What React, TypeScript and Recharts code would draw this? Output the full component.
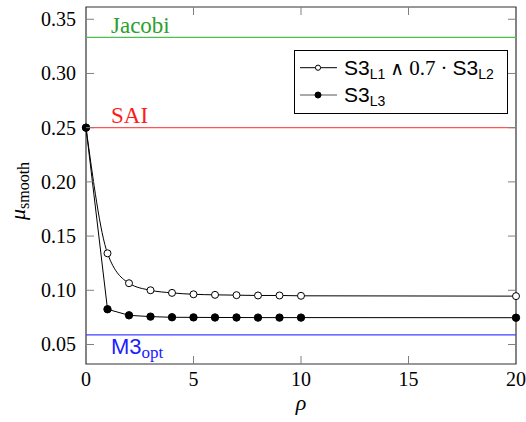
import React from 'react';
import { LineChart, Line, XAxis, YAxis, ReferenceLine, ReferenceArea, Legend } from 'recharts';

// ---- data ----
const rho = [0, 1, 2, 3, 4, 5, 6, 7, 8, 9, 10, 20];
const s3L1L2 = [0.25, 0.1341, 0.1065, 0.1, 0.0976, 0.0963, 0.0958, 0.0955, 0.0952, 0.0952, 0.0949, 0.0946];
const s3L3 = [0.25, 0.0825, 0.0769, 0.0757, 0.0751, 0.075, 0.0749, 0.0749, 0.0748, 0.0748, 0.0748, 0.0747];
const xTicks = [0, 5, 10, 15, 20];
const yTicks = [0.05, 0.1, 0.15, 0.2, 0.25, 0.3, 0.35];
const jacobiValue = 0.3333;
const saiValue = 0.25;
const m3optValue = 0.0589;
const xDomain = [0, 20];
const yDomain = [0.032, 0.3613];

const data = rho.map((r, i) => ({ x: r, a: s3L1L2[i], b: s3L3[i] }));

// ---- layout ----
const W = 526;
const H = 422;
const LEFT = 86;
const RIGHT = 516;
const TOP = 7;
const BOTTOM = 364;
const TICK = 8;
const SERIF = 'Liberation Serif, DejaVu Serif, serif';
const SANS = 'Liberation Sans, DejaVu Sans, sans-serif';
const serif = { fontFamily: SERIF };
const sans = { fontFamily: SANS };
const mathSym = { fontFamily: 'DejaVu Sans ExtraLight, DejaVu Sans, sans-serif' };

const XTick = (props: any) => {
  const { x, payload } = props;
  const v = payload.value;
  const edge = v === xDomain[0] || v === xDomain[1];
  return (
    <g>
      {!edge && (
        <>
          <line x1={x} x2={x} y1={BOTTOM} y2={BOTTOM - TICK} stroke="#808080" strokeWidth={1} />
          <line x1={x} x2={x} y1={TOP} y2={TOP + TICK} stroke="#808080" strokeWidth={1} />
        </>
      )}
      <text x={x} y={BOTTOM + 22} textAnchor="middle" style={serif} fontSize={20} fill="#000">
        {v}
      </text>
    </g>
  );
};

const YTick = (props: any) => {
  const { y, payload } = props;
  const v = payload.value;
  return (
    <g>
      <line x1={LEFT} x2={LEFT + TICK} y1={y} y2={y} stroke="#808080" strokeWidth={1} />
      <line x1={RIGHT} x2={RIGHT - TICK} y1={y} y2={y} stroke="#808080" strokeWidth={1} />
      <text x={76} y={y + 7} textAnchor="end" style={serif} fontSize={20} fill="#000">
        {v.toFixed(2)}
      </text>
    </g>
  );
};

const RefLabel = (props: any) => {
  const { viewBox, text, sub, color, dy, isSans } = props;
  const x = (viewBox?.x ?? LEFT) + 25;
  const y = (viewBox?.y ?? 0) + dy;
  return (
    <text x={x} y={y} style={isSans ? sans : serif} fontSize={isSans ? 22 : 23} fill={color}>
      {text}
      {sub && (
        <tspan style={serif} fontSize={17} dy={4}>
          {sub}
        </tspan>
      )}
    </text>
  );
};

const YLabel = () => (
  <text transform={`translate(25, 191) rotate(-90)`} textAnchor="middle" style={serif} fill="#000">
    <tspan fontStyle="italic" fontSize={22}>μ</tspan>
    <tspan fontSize={16} dy={4}>smooth</tspan>
  </text>
);

const XLabel = () => (
  <text x={301} y={410} textAnchor="middle" style={serif} fontStyle="italic" fontSize={22} fill="#000">
    ρ
  </text>
);

const LegendBox = () => (
  <svg width={214} height={64} style={{ display: 'block' }}>
    <rect x={0.5} y={0.5} width={213} height={63} fill="#fff" stroke="#000" strokeWidth={1} />
    <line x1={6} x2={43} y1={17.7} y2={17.7} stroke="#000" strokeWidth={1} />
    <circle cx={24} cy={17.7} r={2.6} fill="#fff" stroke="#000" strokeWidth={1} />
    <text x={50} y={25} style={sans} fontSize={21} fill="#000">
      S3
      <tspan fontSize={14} dy={4}>L1</tspan>
      <tspan style={mathSym} fontSize={19} dy={-4} dx={5}>∧</tspan>
      <tspan style={serif} fontSize={21} dx={5}>0.7</tspan>
      <tspan style={serif} fontSize={21} dx={5}>·</tspan>
      <tspan style={sans} fontSize={21} dx={5}>S3</tspan>
      <tspan style={sans} fontSize={14} dy={4}>L2</tspan>
    </text>
    <line x1={6} x2={43} y1={45} y2={45} stroke="#555" strokeWidth={1} />
    <circle cx={24} cy={45} r={3} fill="#000" stroke="#000" strokeWidth={1} />
    <text x={50} y={52.3} style={sans} fontSize={21} fill="#000">
      S3
      <tspan fontSize={14} dy={4}>L3</tspan>
    </text>
  </svg>
);

export default function App() {
  return (
    <div style={{ position: 'absolute', left: 0, top: 0, width: W, height: H, background: '#fff' }}>
      <LineChart width={W} height={H} data={data} margin={{ top: TOP, right: W - RIGHT, left: 0, bottom: 0 }}>
        <XAxis
          dataKey="x"
          type="number"
          domain={xDomain}
          ticks={xTicks}
          height={H - BOTTOM}
          axisLine={false}
          tickLine={false}
          tickSize={0}
          tick={<XTick />}
          interval={0}
          label={<XLabel />}
        />
        <YAxis
          type="number"
          domain={yDomain}
          ticks={yTicks}
          width={LEFT}
          axisLine={false}
          tickLine={false}
          tickSize={0}
          tick={<YTick />}
          interval={0}
          allowDataOverflow
          label={<YLabel />}
        />
        <ReferenceLine
          y={jacobiValue}
          stroke="#4cbf4c"
          strokeWidth={1.2}
          label={<RefLabel text="Jacobi" color="#2ca02c" dy={-4} />}
        />
        <ReferenceLine
          y={saiValue}
          stroke="#ff5555"
          strokeWidth={1.2}
          label={<RefLabel text="SAI" color="#ff1a1a" dy={-5} />}
        />
        <ReferenceLine
          y={m3optValue}
          stroke="#4040ff"
          strokeWidth={1.2}
          label={<RefLabel text="M3" sub="opt" isSans color="#2020ff" dy={19} />}
        />
        <ReferenceArea
          x1={xDomain[0]}
          x2={xDomain[1]}
          y1={yDomain[0]}
          y2={yDomain[1]}
          fill="none"
          fillOpacity={0}
          stroke="#333"
          strokeWidth={1.2}
        />
        <Line
          dataKey="a"
          type="monotone"
          stroke="#000"
          strokeWidth={1}
          dot={{ r: 3.5, fill: '#fff', stroke: '#000', strokeWidth: 1 }}
          isAnimationActive={false}
        />
        <Line
          dataKey="b"
          type="linear"
          stroke="#000"
          strokeWidth={1}
          dot={{ r: 3.7, fill: '#000', stroke: '#000', strokeWidth: 1 }}
          isAnimationActive={false}
        />
        <Legend
          layout="vertical"
          align="center"
          verticalAlign="middle"
          wrapperStyle={{ left: 294, top: 50, width: 214, height: 64, margin: 0, padding: 0 }}
          content={() => <LegendBox />}
        />
      </LineChart>
    </div>
  );
}
